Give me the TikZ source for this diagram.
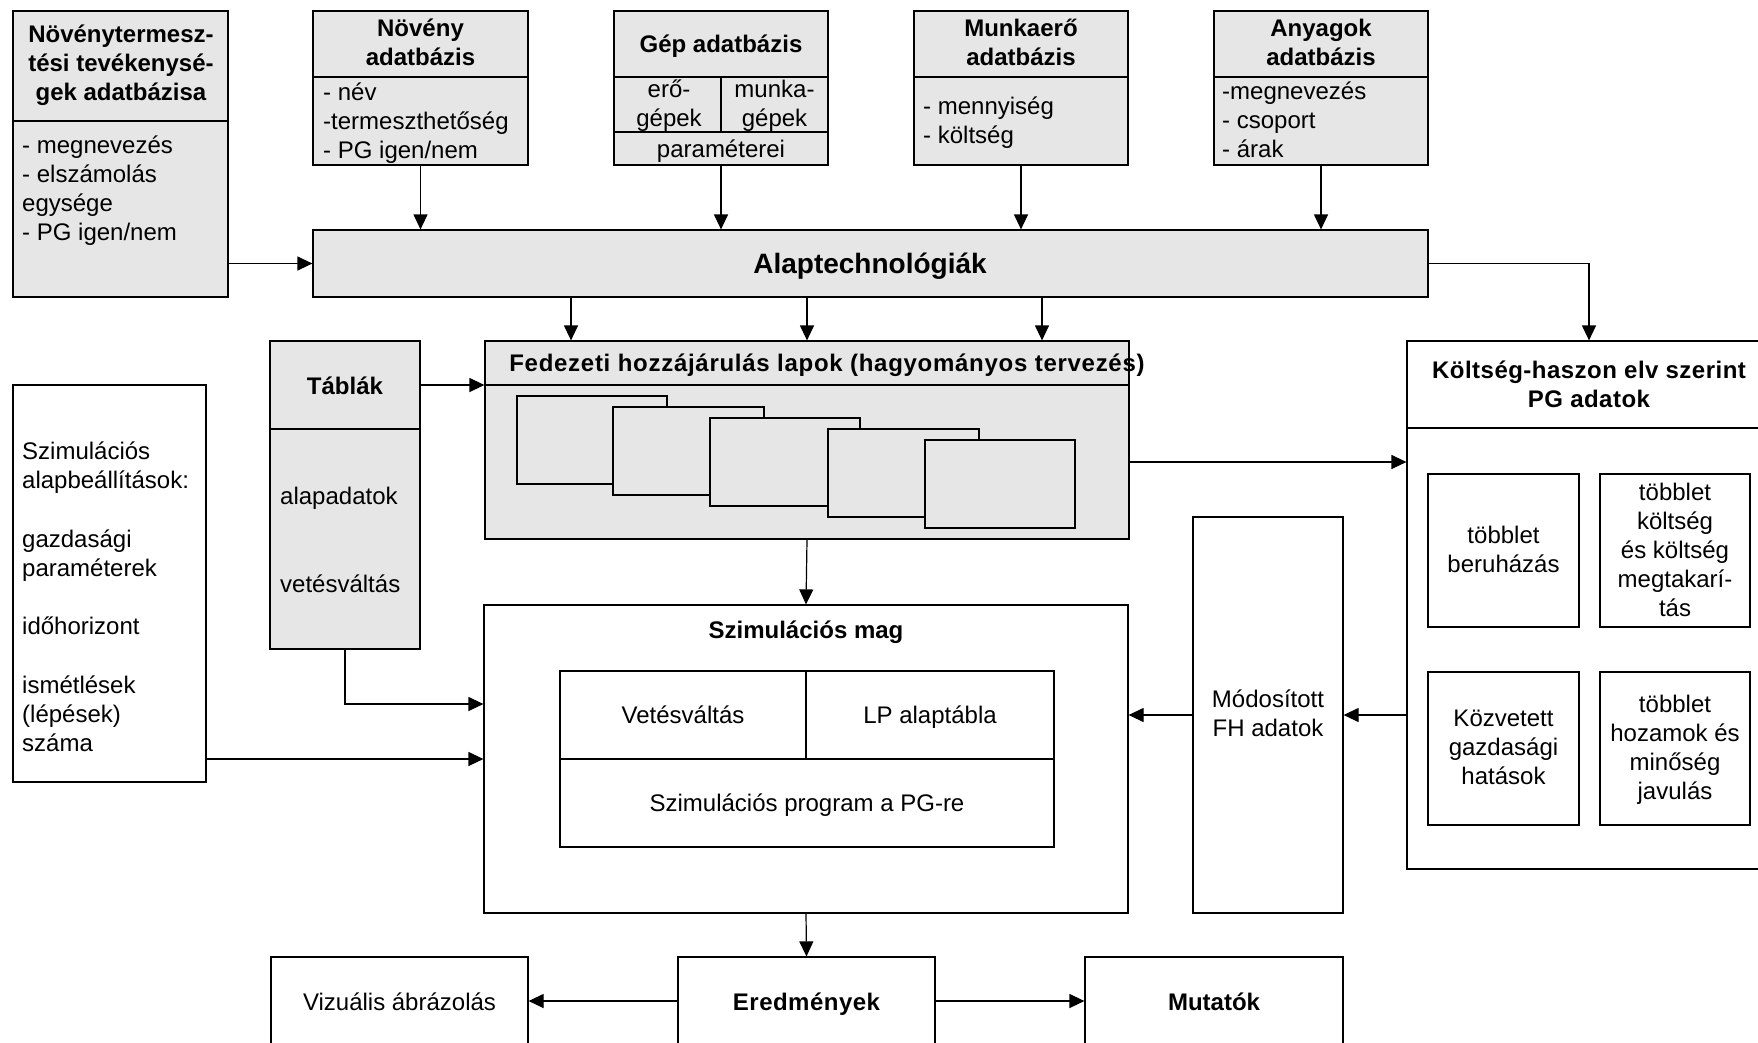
\documentclass[tikz,border=0pt]{standalone}
\usepackage{fontspec}
\setmainfont{Liberation Sans}
\usetikzlibrary{arrows.meta,fit,calc}
\definecolor{boxgray}{RGB}{230,230,230}
\begin{document}
\begin{tikzpicture}[x=1pt,y=-1pt,
  every node/.style={inner sep=0pt, font=\fontsize{24}{29}\selectfont,
    execute at begin node=\strut, execute at end node=\strut},
  gbox/.style={draw, line width=1.2pt, fill=boxgray},
  wbox/.style={draw, line width=1.2pt, fill=white},
  ln/.style={line width=1.2pt},
  arr/.style={line width=1.2pt, -{Triangle[length=15pt,width=14pt]}},
  bt/.style={font=\fontsize{24}{29}\selectfont\bfseries},
  lst/.style={align=left, anchor=west}]
\useasboundingbox (0,0) rectangle (1758,1042);
\clip (0,0) rectangle (1758,1042);
\fill[white] (0,0) rectangle (1758,1042);

% ---- top row ----
\node[gbox, fit={(13,11)(228,297)}] (nt) {};
\draw[ln] (13,121) -- (228,121);
\node[bt, align=center] (nthd) at (121,67) {Növénytermesz-\\tési tevékenysé-\\gek adatbázisa};
\node[lst] (ntbd) at (22,192.5) {- megnevezés\\- elszámolás\\egysége\\- PG igen/nem};

\node[gbox, fit={(313,11)(528,165)}] (nov) {};
\draw[ln] (313,77) -- (528,77);
\node[bt, align=center] (novhd) at (420.5,47) {Növény\\adatbázis};
\node[lst] (novbd) at (323,125) {- név\\-termeszthetőség\\- PG igen/nem};

\node[gbox, fit={(614,11)(828,165)}] (gep) {};
\draw[ln] (614,77) -- (828,77);
\draw[ln] (614,132) -- (828,132);
\draw[ln] (721,77) -- (721,132);
\node[bt] (gephd) at (721,47) {Gép adatbázis};
\node[align=center] (gep1) at (669,108) {erő-\\gépek};
\node[align=center] (gep2) at (774.5,108) {munka-\\gépek};
\node (gep3) at (721,152) {paraméterei};

\node[gbox, fit={(914,11)(1128,165)}] (mun) {};
\draw[ln] (914,77) -- (1128,77);
\node[bt, align=center] (munhd) at (1021,47) {Munkaerő\\adatbázis};
\node[lst] (munbd) at (923,124.5) {- mennyiség\\- költség};

\node[gbox, fit={(1214,11)(1428,165)}] (any) {};
\draw[ln] (1214,77) -- (1428,77);
\node[bt, align=center] (anyhd) at (1321,47) {Anyagok\\adatbázis};
\node[lst] (anybd) at (1222,124) {-megnevezés\\- csoport\\- árak};

% ---- Alaptechnologiak ----
\node[gbox, fit={(313,230)(1428,297)}] (alap) {};
\node[font=\fontsize{28}{34}\selectfont\bfseries] (alaptx) at (870,266.5) {Alaptechnológiák};

% ---- Tablak ----
\node[gbox, fit={(270,341)(420,649)}] (tab) {};
\draw[ln] (270,429) -- (420,429);
\node[fit={(270,341)(420,429)}] (tabhd) {};
\node[bt] (tabtx) at (345,388.5) {Táblák};
\node[anchor=west] (tab1) at (280,498.5) {alapadatok};
\node[anchor=west] (tab2) at (280,586.5) {vetésváltás};

% ---- Fedezeti ----
\node[gbox, fit={(485,341)(1129,539)}] (fed) {};
\draw[ln] (485,385) -- (1129,385);
\node[font=\fontsize{24}{29}\selectfont\bfseries\addfontfeature{LetterSpace=3}] (fedhd) at (827,366) {Fedezeti hozzájárulás lapok (hagyományos tervezés)};
\node[gbox, fit={(517,396)(667,484)}] (p1) {};
\node[gbox, fit={(613,407)(764,495)}] (p2) {};
\node[gbox, fit={(710,418)(860,506)}] (p3) {};
\node[gbox, fit={(828,429)(979,517)}] (p4) {};
\node[gbox, fit={(925,440)(1075,528)}] (p5) {};

% ---- settings ----
\node[wbox, fit={(13,385)(206,782)}] (set) {};
\node[lst] (settx) at (22,601) {Szimulációs\\alapbeállítások:\\[29.5pt]gazdasági\\paraméterek\\[29.5pt]időhorizont\\[29.5pt]ismétlések\\(lépések)\\száma};

% ---- Szimulacios mag ----
\node[wbox, fit={(484,605)(1128,913)}] (szim) {};
\node[bt] (szimtx) at (806,633) {Szimulációs mag};
\node[wbox, fit={(560,671)(1054,847)}] (szimtab) {};
\draw[ln] (560,759) -- (1054,759);
\draw[ln] (806,671) -- (806,759);
\node (vet) at (683,718) {Vetésváltás};
\node (lp) at (930,718) {LP alaptábla};
\node (prog) at (807,806) {Szimulációs program a PG-re};

% ---- Modositott ----
\node[wbox, fit={(1193,517)(1343,913)}] (mod) {};
\node[align=center] (modtx) at (1268,718) {Módosított\\FH adatok};

% ---- Koltseg-haszon ----
\node[wbox, fit={(1407,341)(1771,869)}] (ksh) {};
\draw[ln] (1407,428) -- (1771,428);
\node[font=\fontsize{24}{29}\selectfont\bfseries\addfontfeature{LetterSpace=2}, align=center] (kshtx) at (1589,388.5) {Költség-haszon elv szerint\\PG adatok};
\node[wbox, fit={(1428,474)(1579,627)}] (k1) {};
\node[wbox, fit={(1600,474)(1750,627)}] (k2) {};
\node[wbox, fit={(1428,672)(1579,825)}] (k3) {};
\node[wbox, fit={(1600,672)(1750,825)}] (k4) {};
\node[align=center] (k1tx) at (1503.5,553.5) {többlet\\beruházás};
\node[align=center] (k2tx) at (1675,554) {többlet\\költség\\és költség\\megtakarí-\\tás};
\node[align=center] (k3tx) at (1503.5,751.5) {Közvetett\\gazdasági\\hatások};
\node[align=center] (k4tx) at (1675,751.5) {többlet\\hozamok és\\minőség\\javulás};

% ---- bottom row ----
\node[wbox, fit={(271,957)(528,1045)}] (viz) {};
\node[wbox, fit={(678,957)(935,1045)}] (ered) {};
\node[wbox, fit={(1085,957)(1343,1045)}] (mut) {};
\node (viztx) at (399.5,1005) {Vizuális ábrázolás};
\node[font=\fontsize{24}{29}\selectfont\bfseries\addfontfeature{LetterSpace=2}] (eredtx) at (806.5,1005) {Eredmények};
\node[bt] (muttx) at (1214,1005) {Mutatók};

% ---- connectors ----
\draw[arr] (nt.east |- alap.west) -- (alap.west);
\draw[arr] (nov.south) -- (nov.south |- alap.north);
\draw[arr] (gep.south) -- (gep.south |- alap.north);
\draw[arr] (mun.south) -- (mun.south |- alap.north);
\draw[arr] (any.south) -- (any.south |- alap.north);
\coordinate (fa) at ($(fed.north)+(-236,0)$);
\coordinate (fc) at ($(fed.north)+(235,0)$);
\draw[arr] (fa |- alap.south) -- (fa);
\draw[arr] (fed.north |- alap.south) -- (fed.north);
\draw[arr] (fc |- alap.south) -- (fc);
\draw[arr] (alap.east) -| (ksh.north);
\draw[arr] (tabhd.east) -- (tabhd.east -| fed.west);
\coordinate (fo) at ($(fed.east)+(0,22)$);
\draw[arr] (fo) -- (fo -| ksh.west);
\draw[arr] (fed.south) -- (szim.north);
\coordinate (ti) at ($(szim.west)+(0,-55)$);
\draw[arr] (tab.south) |- (ti);
\draw[arr] (set.east |- szim.west) -- (szim.west);
\draw[arr] (ksh.west |- mod.east) -- (mod.east);
\draw[arr] (mod.west) -- (mod.west -| szim.east);
\draw[arr] (szim.south) -- (ered.north);
\draw[arr] (ered.west) -- (viz.east);
\draw[arr] (ered.east) -- (mut.west);
\end{tikzpicture}
\end{document}
